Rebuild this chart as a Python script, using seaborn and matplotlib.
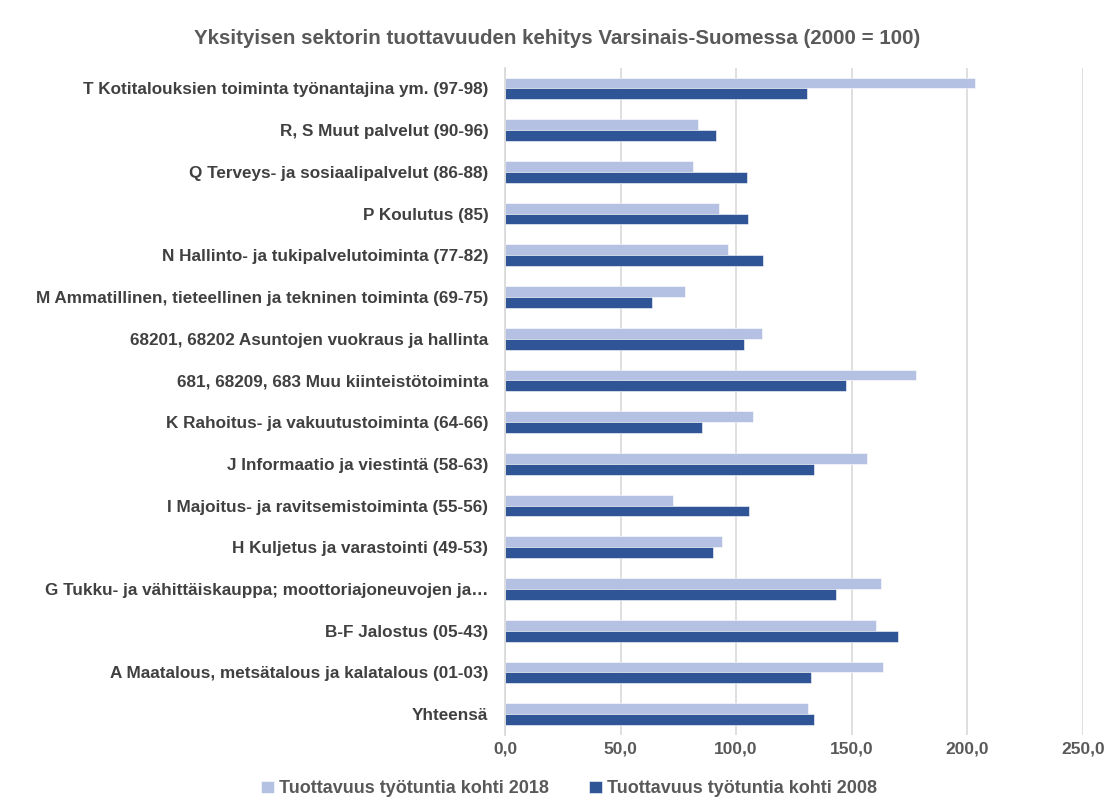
import matplotlib
matplotlib.use("Agg")
import matplotlib.pyplot as plt
import seaborn as sns
import pandas as pd

# Toimialat ylhäältä alas
categories = [
    "T Kotitalouksien toiminta työnantajina ym. (97-98)",
    "R, S Muut palvelut (90-96)",
    "Q Terveys- ja sosiaalipalvelut (86-88)",
    "P Koulutus (85)",
    "N Hallinto- ja tukipalvelutoiminta (77-82)",
    "M Ammatillinen, tieteellinen ja tekninen toiminta (69-75)",
    "68201, 68202 Asuntojen vuokraus ja hallinta",
    "681, 68209, 683 Muu kiinteistötoiminta",
    "K Rahoitus- ja vakuutustoiminta (64-66)",
    "J Informaatio ja viestintä (58-63)",
    "I Majoitus- ja ravitsemistoiminta (55-56)",
    "H Kuljetus ja varastointi (49-53)",
    "G Tukku- ja vähittäiskauppa; moottoriajoneuvojen ja…",
    "B-F Jalostus (05-43)",
    "A Maatalous, metsätalous ja kalatalous (01-03)",
    "Yhteensä",
]
values_2018 = [203.5, 83.6, 81.4, 92.5, 96.5, 77.8, 111.2, 177.7,
               107.1, 156.8, 72.9, 93.9, 162.7, 160.4, 163.4, 131.3]
values_2008 = [130.5, 91.2, 104.5, 105.0, 111.7, 63.7, 103.5, 147.4,
               85.3, 133.9, 105.5, 90.2, 143.2, 169.9, 132.4, 133.6]
series = ["Tuottavuus työtuntia kohti 2018", "Tuottavuus työtuntia kohti 2008"]
xticks = [0, 50, 100, 150, 200, 250]

df = pd.DataFrame({
    "toimiala": categories * 2,
    "arvo": values_2018 + values_2008,
    "sarja": [series[0]] * len(categories) + [series[1]] * len(categories),
})

sns.set_theme(style="white")
plt.rcParams["font.family"] = ["Liberation Sans", "DejaVu Sans"]

fig = plt.figure(figsize=(11.14, 8.09), dpi=100)
ax = fig.add_axes([0.4533, 0.0915, 0.5187, 0.825])

sns.barplot(
    data=df, y="toimiala", x="arvo", hue="sarja",
    order=categories, hue_order=series,
    palette=["#b4c1e2", "#2f5597"], saturation=1, width=0.52,
    edgecolor="white", linewidth=0.4, ax=ax,
)

ax.set_xlim(0, 250)
ax.set_xticks(xticks)
ax.set_xticklabels([f"{t:.1f}".replace(".", ",") for t in xticks],
                   fontsize=12.5, fontweight="bold", color="#595959")
ax.tick_params(axis="x", pad=5, length=0)
ax.tick_params(axis="y", length=0, pad=12)
for lbl in ax.get_yticklabels():
    lbl.set_fontsize(12.3)
    lbl.set_fontweight("bold")
    lbl.set_color("#404040")
ax.xaxis.grid(True, color="#d9d9d9", linewidth=1.2)
ax.set_axisbelow(True)
for s in ["top", "right", "bottom"]:
    ax.spines[s].set_visible(False)
ax.spines["left"].set_color("#d9d9d9")
ax.set_xlabel("")
ax.set_ylabel("")

leg = ax.legend(loc="center", bbox_to_anchor=(0.511, 0.025),
                bbox_transform=fig.transFigure, ncol=2, frameon=False,
                handlelength=0.7, handleheight=0.7, columnspacing=2.2,
                handletextpad=0.3, prop={"size": 13, "weight": "bold"})
for t in leg.get_texts():
    t.set_color("#595959")

fig.text(0.5, 0.953, "Yksityisen sektorin tuottavuuden kehitys Varsinais-Suomessa (2000 = 100)",
         ha="center", va="center", fontsize=14.8, fontweight="bold", color="#595959")

fig.savefig("out.png", dpi=100)
